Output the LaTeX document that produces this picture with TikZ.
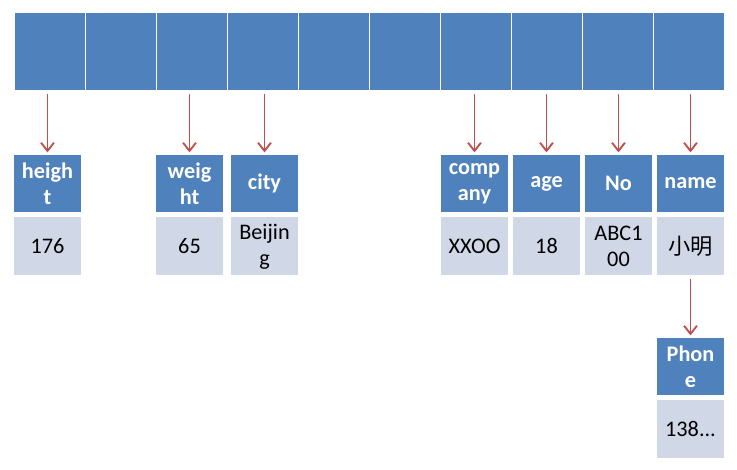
\documentclass[tikz,border=0pt]{standalone}
\usepackage{fontspec}
\setmainfont{Carlito}
\newfontfamily\cjk{Noto Sans CJK SC}
\usetikzlibrary{arrows.meta,positioning}

\definecolor{cellblue}{HTML}{4F81BD}
\definecolor{vallight}{HTML}{D0D8E8}
\definecolor{arrred}{HTML}{C0504D}

\tikzset{
  slot/.style={fill=cellblue, draw=white, line width=0.6pt,
    minimum width=2.13cm, minimum height=2.34cm, inner sep=0pt},
  keybox/.style={fill=cellblue, minimum width=2.01cm, minimum height=1.71cm,
    inner sep=0pt, align=center, text=white, font=\bfseries\fontsize{19}{22}\selectfont},
  valbox/.style={fill=vallight, minimum width=2.01cm, minimum height=1.74cm,
    inner sep=0pt, align=center, font=\fontsize{19}{22}\selectfont},
  ptr/.style={draw=arrred, line width=1.6pt, -{Straight Barb[length=7pt,width=11pt]},
    shorten <=3pt, shorten >=2pt}
}

\begin{document}
\begin{tikzpicture}[x=0.03cm, y=-0.03cm]
    \useasboundingbox (0,0) rectangle (737,469);
    % table of slots
    \foreach \i in {1,...,10}
        \node[slot] (c\i) at ({49.5+71*(\i-1)},51) {};

    % keys and values
    \node[keybox] (height) at (47.5,183.5) {heigh\\t};
    \node[valbox, below=0.15cm of height] (v-height) {176};
    \node[keybox] (weight) at (189.5,183.5) {weig\\ht};
    \node[valbox, below=0.15cm of weight] (v-weight) {65};
    \node[keybox] (city) at (264.5,183.5) {city};
    \node[valbox, below=0.15cm of city] (v-city) {Beijin\\g};
    \node[keybox] (company) at (474.5,183.5) {comp\\any};
    \node[valbox, below=0.15cm of company] (v-company) {XXOO};
    \node[keybox] (age) at (546.5,183.5) {age};
    \node[valbox, below=0.15cm of age] (v-age) {18};
    \node[keybox] (no) at (618.5,183.5) {No};
    \node[valbox, below=0.15cm of no] (v-no) {ABC1\\00};
    \node[keybox] (name) at (690.5,183.5) {name};
    \node[valbox, below=0.15cm of name] (v-name) {\cjk 小明};
    \node[keybox] (phone) at (690.5,366.5) {Phon\\e};
    \node[valbox, below=0.15cm of phone] (v-phone) {138...};

    % pointers
    \draw[ptr] (c1.south -| height.north) -- (height.north);
    \draw[ptr] (c3.south -| weight.north) -- (weight.north);
    \draw[ptr] (c4.south -| city.north) -- (city.north);
    \draw[ptr] (c7.south -| company.north) -- (company.north);
    \draw[ptr] (c8.south -| age.north) -- (age.north);
    \draw[ptr] (c9.south -| no.north) -- (no.north);
    \draw[ptr] (c10.south -| name.north) -- (name.north);
    \draw[ptr] (v-name.south) -- (phone.north);
\end{tikzpicture}
\end{document}
